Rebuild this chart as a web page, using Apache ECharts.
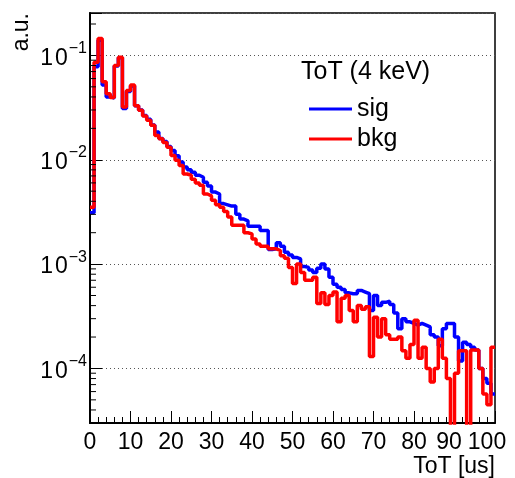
<!DOCTYPE html>
<html>
<head>
<meta charset="utf-8">
<script src="https://cdn.jsdelivr.net/npm/echarts@6/dist/echarts.min.js"></script>
<style>
  html, body { margin: 0; padding: 0; background: #fff; }
  #chart { width: 515px; height: 478px; }
</style>
</head>
<body>
<div id="chart"></div>
<script>
// ToT spectra, 1 us bins from 0 to 100 us, normalised (a.u.)
const binWidth = 1;
const xRange = [0, 100];
const yRange = [3e-5, 0.255];

const sig = [
  0.0031, 0.078, 0.14, 0.052, 0.040, 0.039, 0.079, 0.095, 0.031, 0.045,
  0.051, 0.033, 0.030, 0.0265, 0.0245, 0.0215, 0.0185, 0.016, 0.015, 0.0134,
  0.0123, 0.0109, 0.0095, 0.0085, 0.0080, 0.0076, 0.0071, 0.0068, 0.0061, 0.0056,
  0.0049, 0.0047, 0.0038, 0.0037, 0.0036, 0.0036, 0.0030, 0.0027, 0.0026, 0.0023,
  0.0023, 0.0023, 0.0021, 0.0021, 0.00138, 0.0014, 0.0016, 0.00148, 0.0013, 0.00122,
  0.00116, 0.00112, 0.00095, 0.00093, 0.00088, 0.00083, 0.00091, 0.0010, 0.0009, 0.00075,
  0.00064, 0.0006, 0.00057, 0.00053, 0.00052, 0.00052, 0.00056, 0.00054, 0.00052, 0.00036,
  0.0005, 0.0004, 0.00043, 0.00044, 0.00041, 0.00034, 0.00024, 0.0003, 0.00028, 0.00027,
  0.00026, 0.00027, 0.00026, 0.00025, 0.00021, 0.0002, 0.000165, 0.00024, 0.00027, 0.00027,
  0.0002, 0.000118, 0.000178, 0.00017, 0.00016, 0.00015, 0.0001, 0.00008, 0.000072, 0.000057
];

const bkg = [
  0.0035, 0.086, 0.145, 0.056, 0.043, 0.0395, 0.080, 0.096, 0.032, 0.046,
  0.052, 0.033, 0.0298, 0.0263, 0.0239, 0.0214, 0.0171, 0.0159, 0.0146, 0.0132,
  0.011, 0.0099, 0.0088, 0.0073, 0.0071, 0.0065, 0.006, 0.0057, 0.0047, 0.0045,
  0.0041, 0.0037, 0.0035, 0.0032, 0.00283, 0.00236, 0.00236, 0.00236, 0.0020, 0.00195,
  0.00174, 0.00156, 0.00148, 0.00148, 0.0014, 0.0014, 0.00135, 0.0012, 0.00114, 0.00093,
  0.00065, 0.0010, 0.00083, 0.0007, 0.0007, 0.00075, 0.00042, 0.00053, 0.00041, 0.0005,
  0.00054, 0.00028, 0.00047, 0.0005, 0.00036, 0.00028, 0.0004, 0.00037, 0.00039, 0.00013,
  0.00031, 0.0002, 0.0003, 0.00021, 0.00019, 0.00019, 0.0002, 0.000148, 0.000125, 0.00017,
  0.00029, 0.000125, 0.00016, 0.0001, 0.000074, 0.0001, 0.00019, 0.000125, 0.00008, 0,
  0.00009, 0.000148, 0.000148, 0, 0.00015, 0.00015, 0.0001, 0.000057, 0.000045, 0.00016
];

const seriesNames = ['sig', 'bkg'];
const seriesColors = ['#0000ff', '#ff0000'];
const legendHeader = 'ToT (4 keV)';
const xTitle = 'ToT [us]';
const yTitle = 'a.u.';

const FONT = '"Liberation Sans", Arial, sans-serif';
// empty bins drop below the bottom of the log scale
const EMPTY_FLOOR = 1e-7;

// step outline: one point per bin low edge plus the last high edge
function histPoints(values) {
  const pts = values.map((v, i) => [xRange[0] + i * binWidth, v > 0 ? v : EMPTY_FLOOR]);
  const last = values[values.length - 1];
  pts.push([xRange[0] + values.length * binWidth, last > 0 ? last : EMPTY_FLOOR]);
  return pts;
}

// log minor ticks (2..9 x 10^n) inside the visible range
const minorY = [];
for (let e = -6; e <= 1; e++) {
  for (let m = 2; m <= 9; m++) {
    const v = m * Math.pow(10, e);
    if (v > yRange[0] && v < yRange[1]) minorY.push([xRange[0], v]);
  }
}

function isDecade(v) {
  const l = Math.log10(v);
  return Math.abs(l - Math.round(l)) < 1e-6;
}

const chart = echarts.init(document.getElementById('chart'), null, { renderer: 'canvas' });

chart.setOption({
  animation: false,
  backgroundColor: '#fff',
  grid: {
    left: 90, right: 20, top: 13, bottom: 55,
    show: true, borderColor: '#000', borderWidth: 1.5, backgroundColor: 'transparent'
  },
  xAxis: {
    type: 'value',
    min: xRange[0], max: xRange[1], interval: 10,
    axisLine: { show: true, onZero: false, lineStyle: { color: '#000', width: 2 } },
    axisTick: { show: true, inside: true, length: 12, lineStyle: { color: '#000', width: 1 } },
    minorTick: { show: true, splitNumber: 5, length: 6, lineStyle: { color: '#000', width: 1 } },
    splitLine: { show: false },
    axisLabel: {
      color: '#000', fontSize: 23, fontFamily: FONT, margin: 8,
      formatter: function (v) {
        if (v === 90) return '{l90|90}';
        if (v === 100) return '{l100|100}';
        return String(v);
      },
      rich: {
        l90: { fontSize: 23, fontFamily: FONT, color: '#000', padding: [0, 11, 0, 0] },
        l100: { fontSize: 23, fontFamily: FONT, color: '#000', padding: [0, 16, 0, 0] }
      }
    }
  },
  yAxis: {
    type: 'log', logBase: 10,
    min: yRange[0], max: yRange[1],
    axisLine: { show: true, lineStyle: { color: '#000', width: 2 } },
    axisTick: { show: true, inside: true, length: 12, lineStyle: { color: '#000', width: 1 } },
    splitLine: { show: true, lineStyle: { color: '#555', type: [1, 3], width: 1 } },
    axisLabel: {
      margin: 3,
      formatter: function (v) {
        if (!isDecade(v)) return '';
        const e = Math.round(Math.log10(v));
        return '{a|1}{b|0}{s|' + (e < 0 ? '\u2212' + (-e) : String(e)) + '}';
      },
      rich: {
        a: { fontSize: 23, fontFamily: FONT, color: '#000', lineHeight: 30, padding: [6, 0, 0, 0] },
        b: { fontSize: 23, fontFamily: FONT, color: '#000', lineHeight: 30, padding: [6, 1, 0, 2] },
        s: { fontSize: 16, fontFamily: FONT, color: '#000', verticalAlign: 'top' }
      }
    }
  },
  legend: {
    orient: 'vertical',
    left: 304, top: 91,
    icon: 'rect', itemWidth: 43, itemHeight: 3, itemGap: 4,
    textStyle: { color: '#000', fontSize: 25, lineHeight: 26, fontFamily: FONT, padding: [0, 0, 0, 0] },
    data: seriesNames
  },
  graphic: [
    {
      type: 'text', left: 301, top: 60, silent: true,
      style: { text: legendHeader, fill: '#000', font: '25px ' + FONT }
    },
    {
      type: 'text', x: 495, y: 467, silent: true,
      style: { text: xTitle, fill: '#000', font: '23px ' + FONT, align: 'right', verticalAlign: 'middle' }
    },
    {
      type: 'text', x: 22, y: 13, rotation: Math.PI / 2, silent: true,
      style: { text: yTitle, fill: '#000', font: '23px ' + FONT, align: 'right', verticalAlign: 'middle' }
    }
  ],
  series: [
    {
      name: seriesNames[0], type: 'line', step: 'end', symbol: 'none', clip: true,
      color: seriesColors[0],
      lineStyle: { color: seriesColors[0], width: 3.5 },
      data: histPoints(sig), z: 3
    },
    {
      name: seriesNames[1], type: 'line', step: 'end', symbol: 'none', clip: true,
      color: seriesColors[1],
      lineStyle: { color: seriesColors[1], width: 3.5 },
      data: histPoints(bkg), z: 4
    },
    {
      name: 'minor-y', type: 'custom', silent: true, clip: false, z: 5,
      renderItem: function (params, api) {
        const p = api.coord([api.value(0), api.value(1)]);
        return {
          type: 'line',
          shape: { x1: p[0], y1: p[1], x2: p[0] + 6, y2: p[1] },
          style: { stroke: '#000', lineWidth: 1 }
        };
      },
      data: minorY
    }
  ]
});
</script>
</body>
</html>
